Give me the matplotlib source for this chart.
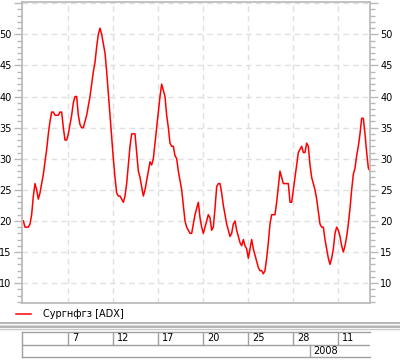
"""ADX line for Сургнфгз with a trading-terminal style date strip underneath."""
import numpy as np
import matplotlib
matplotlib.use("Agg")
import matplotlib.pyplot as plt
from matplotlib.ticker import MultipleLocator

# ADX values, one per bar
adx = [
    20, 19, 19, 19, 19.5, 21, 24, 26, 25, 23.5, 24.5, 26, 27.5, 29.5, 31.5, 34, 36, 37.5, 37.5, 37,
    37, 37, 37.5, 37.5, 35, 33, 33, 34, 35.5, 37, 39, 40, 40, 37, 35.5, 35, 35, 36, 37, 38.5,
    40, 42, 44, 45.5, 48, 50, 51, 50, 48.5, 47, 44, 40.5, 37, 33.5, 30, 27, 24.5, 24, 24, 23.5,
    23, 24, 26, 29, 32, 34, 34, 34, 31, 28, 27, 25.5, 24, 25, 26.5, 28, 29.5, 29, 30, 32.5,
    35, 37.5, 40, 42, 41, 40, 37, 35, 32.5, 32, 32, 30.5, 30, 28, 26.5, 25, 22.5, 20, 19, 18.5,
    18, 18, 19.5, 21, 22, 23,
    20.5, 19, 18, 19, 20, 21, 20.5, 18.5, 19, 22, 25.5, 26, 26, 24.5, 22.5, 21, 19.5, 18.5, 17.5, 18,
    19.5, 20, 18.5, 17.5, 16.5, 16, 17, 16, 15.5, 14, 15.5, 17, 15.5, 14.5, 13.5, 12.5, 12, 12, 11.5, 12,
    14, 16.5, 19.5, 21, 21, 21, 23, 25.5, 28, 27, 26, 26, 26, 26, 23, 23, 25, 27, 29, 31,
    31.5, 32, 31, 31, 32.5, 32, 29, 27, 26, 25, 23.5, 21.5, 19.5, 19, 19, 17, 15.5, 14, 13, 14,
    15.5, 18, 19, 18.5, 17.5, 16, 15, 16, 17.5, 19.5, 22, 25, 27.5, 28.5, 30.5, 32, 34, 36.5, 36.5, 34,
    31, 28.5, 28,
]
# bar index where each day label starts, and the labels
day_pos = [27, 54, 81, 108, 135, 162, 189]
day_labels = ["7", "12", "17", "20", "25", "28", "11"]
year_pos = 172
year_label = "2008"

GRID = "#e0e0e0"
FRAME = "#b8b8b8"
FS = 7

fig = plt.figure(figsize=(4, 3.6), dpi=100)

# background overlay in pixel coords for separators
bg = fig.add_axes([0, 0, 1, 1], zorder=0)
bg.set_xlim(0, 400)
bg.set_ylim(360, 0)
bg.axis("off")
for y, c, lw in [(322.5, "#a8a8a8", 1.2), (324.5, "#d8d8d8", 1.0), (326.5, "#a8a8a8", 1.2), (328.5, "#c8c8c8", 1.0)]:
    bg.plot([0, 400], [y, y], color=c, linewidth=lw)

ax = fig.add_axes([22/400, 57/360, 348/400, 301/360], zorder=1)
x = np.arange(len(adx))
ax.plot(x, adx, color="red", linewidth=1.1, label="Сургнфгз [ADX]")
ax.set_xlim(-0.8, 208)
ax.set_ylim(6.8, 55.2)

ax.yaxis.set_major_locator(MultipleLocator(5))
ax.yaxis.set_minor_locator(MultipleLocator(1))
ax.set_xticks(day_pos)
ax.tick_params(axis="x", length=0, labelbottom=False)
ax.tick_params(axis="y", which="major", length=6, width=1, color=FRAME, labelsize=FS,
               pad=1.5, left=True, right=True, labelleft=True, labelright=True)
ax.tick_params(axis="y", which="minor", length=3.5, width=1, color=FRAME, left=True, right=True)
for lbl in ax.get_yticklabels():
    lbl.set_visible(10 <= float(lbl.get_position()[1]) <= 50)
ax.grid(True, color=GRID, linestyle=(0, (4, 3)), linewidth=1)
for s in ax.spines.values():
    s.set_color(FRAME)
    s.set_linewidth(1.2)

fig.legend(loc="center left", bbox_to_anchor=(0.03, 1 - 314/360), frameon=False,
           fontsize=FS, handlelength=1.6, handletextpad=1.2, borderaxespad=0)

# date strip
ts = fig.add_axes([22/400, 3/360, 348/400, 25/360], sharex=ax, zorder=1)
ts.set_ylim(0, 2)
ts.tick_params(left=False, bottom=False, labelleft=False, labelbottom=False)
for s in ts.spines.values():
    s.set_color("#a0a0a0")
    s.set_linewidth(1)
ts.spines["right"].set_visible(False)
ts.axhline(1, color="#a0a0a0", linewidth=1)
for p, t in zip(day_pos, day_labels):
    ts.plot([p, p], [1, 2], color="#a0a0a0", linewidth=1)
    ts.text(p + 2.2, 1.5, t, fontsize=FS, va="center", ha="left")
ts.plot([year_pos, year_pos], [0, 1], color="#a0a0a0", linewidth=1)
ts.text(year_pos + 2.2, 0.5, year_label, fontsize=FS, va="center", ha="left")

fig.savefig("out.png", dpi=100)
